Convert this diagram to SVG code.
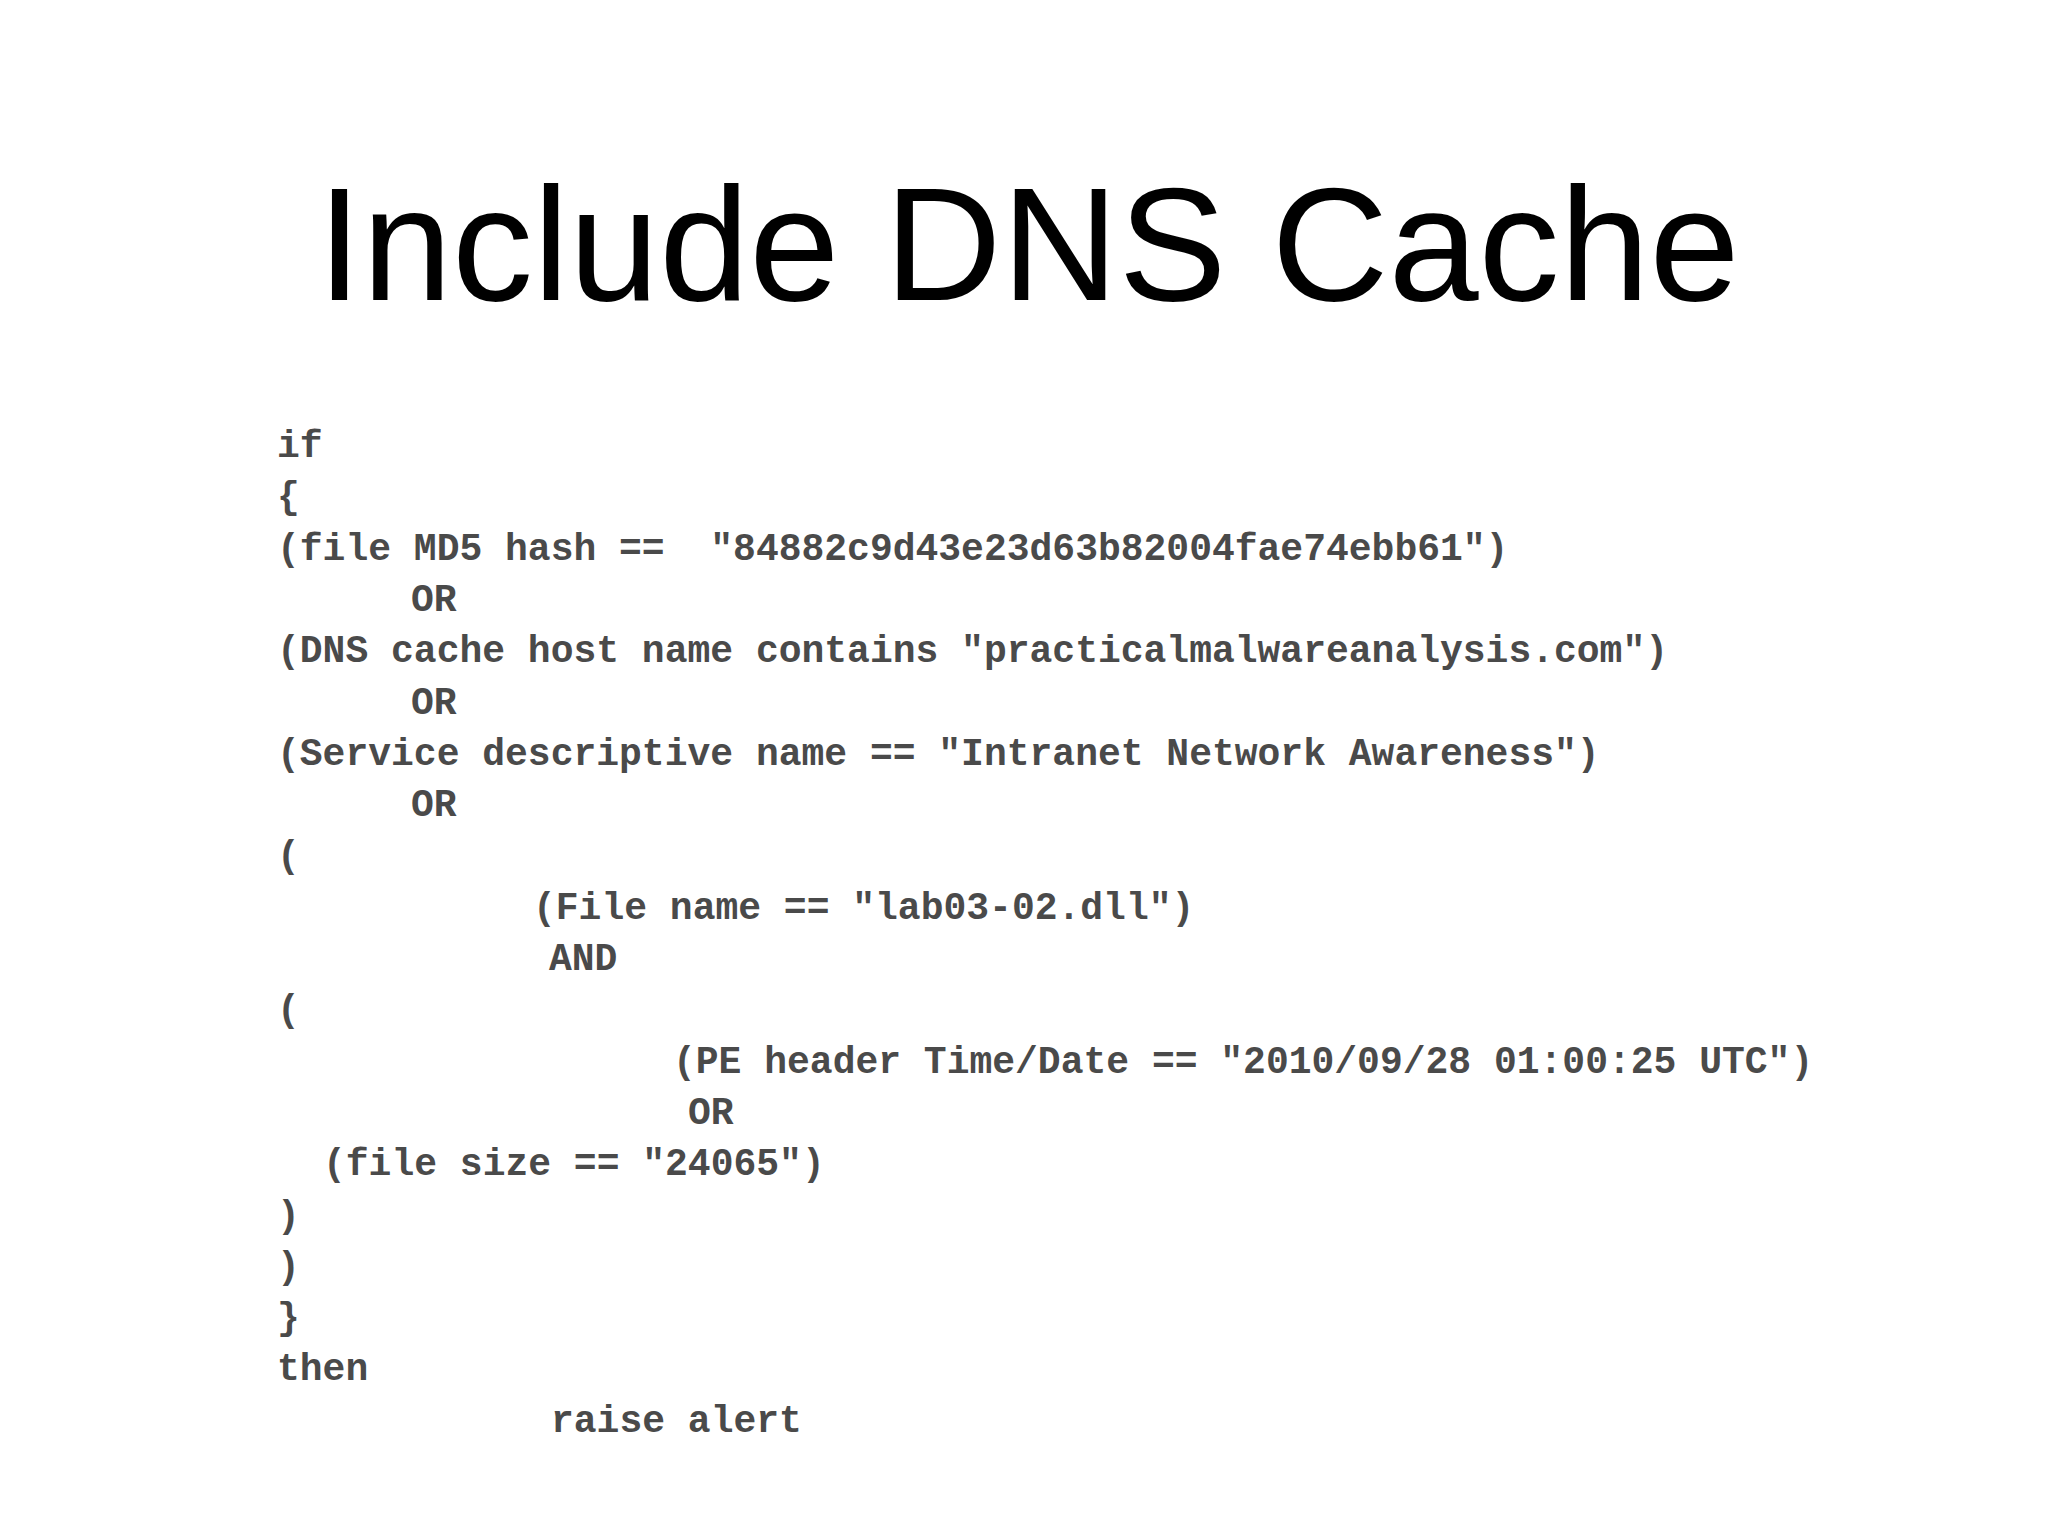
<svg xmlns="http://www.w3.org/2000/svg" width="2048" height="1536" viewBox="0 0 2048 1536">
<style>
.t{font-family:"Liberation Sans",Arial,sans-serif;font-size:162px;fill:#000}
.c{font-family:"Liberation Mono","Courier New",monospace;font-size:38px;fill:#4a4a4a;font-weight:bold;white-space:pre}
</style>
<rect width="2048" height="1536" fill="#fff"/>
<text class="t" x="317" y="300">Include DNS Cache</text>
<g xml:space="preserve">
<text class="c" x="277" y="457">if</text>
<text class="c" x="277" y="508">{</text>
<text class="c" x="277" y="560">(file MD5 hash ==  "84882c9d43e23d63b82004fae74ebb61")</text>
<text class="c" x="411" y="611">OR</text>
<text class="c" x="277" y="662">(DNS cache host name contains "practicalmalwareanalysis.com")</text>
<text class="c" x="411" y="714">OR</text>
<text class="c" x="277" y="765">(Service descriptive name == "Intranet Network Awareness")</text>
<text class="c" x="411" y="816">OR</text>
<text class="c" x="277" y="867">(</text>
<text class="c" x="533" y="919">(File name == "lab03-02.dll")</text>
<text class="c" x="549" y="970">AND</text>
<text class="c" x="277" y="1021">(</text>
<text class="c" x="673" y="1073">(PE header Time/Date == "2010/09/28 01:00:25 UTC")</text>
<text class="c" x="688" y="1124">OR</text>
<text class="c" x="323" y="1175">(file size == "24065")</text>
<text class="c" x="277" y="1227">)</text>
<text class="c" x="277" y="1278">)</text>
<text class="c" x="277" y="1329">}</text>
<text class="c" x="277" y="1380">then</text>
<text class="c" x="551" y="1432">raise alert</text>
</g>
</svg>
